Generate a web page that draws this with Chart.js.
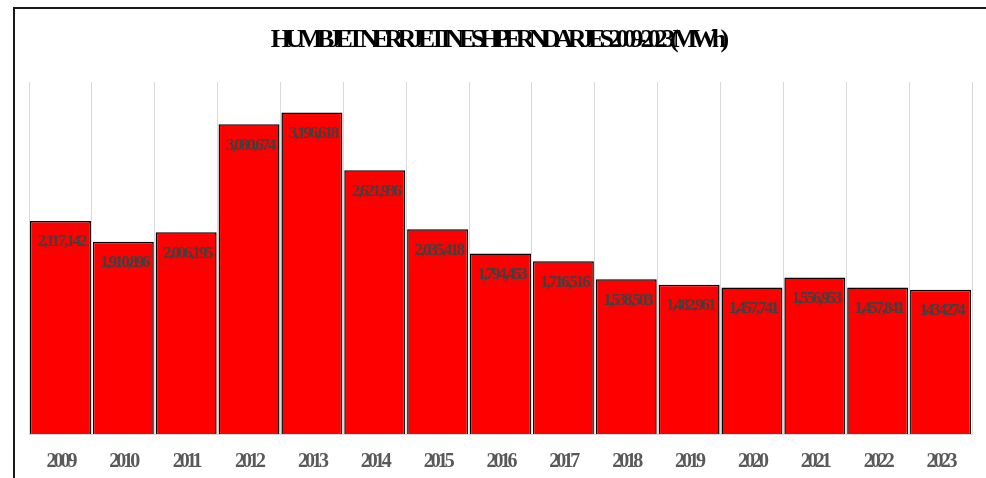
<!DOCTYPE html>
<html>
<head>
<meta charset="utf-8">
<script src="https://cdn.jsdelivr.net/npm/chart.js@4"></script>
<style>
  html, body { margin: 0; padding: 0; background: #fff; overflow: hidden; }
  #wrap { position: relative; width: 986px; height: 478px; overflow: hidden; }
  #lienzo { position: absolute; left: 0; top: 0; width: 986px; height: 499px; }
  #frame { position: absolute; left: 13px; top: 7px; width: 973px; height: 471px;
           border-left: 2px solid #1a1a1a; border-top: 2px solid #1a1a1a; box-sizing: border-box; }
</style>
</head>
<body>
<div id="wrap">
  <div id="lienzo"><canvas id="grafico"></canvas></div>
  <div id="frame"></div>
</div>
<script>
// Datos
const anios = ['2009', '2010', '2011', '2012', '2013', '2014', '2015', '2016', '2017', '2018', '2019', '2020', '2021', '2022', '2023'];
const humbjet = [2117142, 1910896, 2006195, 3080674, 3196618, 2621936, 2035418, 1794453, 1716516, 1538503, 1482961, 1457741, 1556953, 1457841, 1434274];
const titulo = 'HUMBJET NE RRJETIN E SHPERNDARJES 2009-2023 (MWh)';

// etiqueta de cada barra (la ultima va sin comas como en el original)
const etiquetas = humbjet.map((v, i) => i === humbjet.length - 1 ? String(v) : v.toLocaleString('en-US'));

// plugin para titulo y etiquetas condensadas
const textoCondensado = {
  id: 'textoCondensado',
  beforeDraw(chart) {
    const ctx = chart.ctx;
    ctx.save();
    ctx.letterSpacing = '-5.8px';
    ctx.font = 'bold 26px "Liberation Serif"';
    ctx.fillStyle = '#000';
    ctx.textAlign = 'center';
    ctx.textBaseline = 'middle';
    ctx.fillText(titulo, 497, 40);
    ctx.restore();
    ctx.letterSpacing = '-3px'; // para los ticks del eje x
  },
  afterDatasetsDraw(chart) {
    const ctx = chart.ctx;
    const meta = chart.getDatasetMeta(0);
    ctx.save();
    ctx.letterSpacing = '-2.2px';
    ctx.font = 'bold 17px "Liberation Serif"';
    ctx.fillStyle = '#404040';
    ctx.textAlign = 'center';
    ctx.textBaseline = 'middle';
    meta.data.forEach((bar, i) => {
      ctx.fillText(etiquetas[i], bar.x + 1, bar.y + 21);
    });
    ctx.restore();
  }
};

const config = {
  type: 'bar',
  data: {
    labels: anios,
    datasets: [{
      data: humbjet,
      backgroundColor: '#ff0000',
      borderColor: '#000',
      borderWidth: 1.5,
      barPercentage: 0.97,
      categoryPercentage: 1.0
    }]
  },
  options: {
    responsive: true,
    maintainAspectRatio: false,
    animation: false,
    layout: { padding: { left: 29, right: 14, top: 82, bottom: 9 } },
    plugins: {
      legend: { display: false },
      title: { display: false },
      tooltip: { enabled: false }
    },
    scales: {
      x: {
        grid: { color: '#d9d9d9', lineWidth: 1, drawTicks: false, offset: true },
        border: { color: '#d9d9d9' },
        ticks: {
          color: '#595959',
          font: { family: '"Liberation Serif"', size: 20, weight: 'bold' },
          padding: 16,
          autoSkip: false,
          maxRotation: 0
        }
      },
      y: { display: false, min: 0, max: 3500000 }
    }
  },
  plugins: [textoCondensado]
};

new Chart(document.getElementById('grafico'), config);
</script>
</body>
</html>
